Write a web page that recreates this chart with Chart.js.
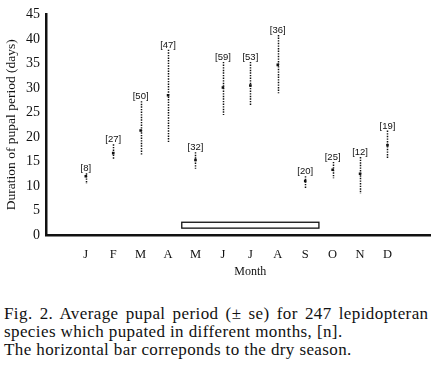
<!DOCTYPE html>
<html>
<head>
<meta charset="utf-8">
<script src="https://cdn.jsdelivr.net/npm/chart.js@4"></script>
<style>
  html, body { margin: 0; padding: 0; background: #fff; }
  body { width: 433px; height: 370px; position: relative; overflow: hidden; }
  #wrap { position: absolute; left: 0; top: 0; width: 433px; height: 290px; }
  #caption { position: absolute; left: 4px; top: 305px; font-family: "Liberation Serif", "DejaVu Serif", serif; font-size: 17px; line-height: 18px; color: #111; white-space: nowrap; letter-spacing: 0.4px; }
  #caption .l1 { word-spacing: 2.5px; }
</style>
</head>
<body>
<div id="wrap"><canvas id="c" width="433" height="290"></canvas></div>
<div id="caption"><span class="l1">Fig. 2. Average pupal period (± se) for 247 lepidopteran</span><br>species which pupated in different months, [n].<br>The horizontal bar correponds to the dry season.</div>
<script>
const months = ['J','F','M','A','M','J','J','A','S','O','N','D'];
const meanDays = [12.0, 16.7, 21.3, 28.5, 15.3, 30.1, 30.5, 34.7, 11.0, 13.3, 12.5, 18.3];
const lowDays  = [10.4, 15.3, 16.3, 18.9, 13.5, 24.5, 26.3, 28.9, 9.4, 11.6, 8.4, 15.5];
const highDays = [12.6, 18.5, 27.3, 37.8, 16.9, 35.3, 35.3, 40.8, 12.0, 14.9, 15.9, 21.3];
const nSpecies = [8, 27, 50, 47, 32, 59, 53, 36, 20, 25, 12, 19];
const yTicks = [0, 5, 10, 15, 20, 25, 30, 35, 40, 45];
// dry season: May (index 4) through September (index 8), drawn as a bar from 1.4 to 2.6 days
const dryFirstMonth = 4;
const dryLastMonth = 8;
const dryBarLow = 1.4;
const dryBarHigh = 2.6;

const points = meanDays.map((v, i) => ({ x: i, y: v }));

const errorPlugin = {
  id: 'errorBars',
  afterDatasetsDraw(chart) {
    const ctx = chart.ctx;
    const xs = chart.scales.x, ys = chart.scales.y;
    ctx.save();
    // dry-season bar
    const x0 = xs.getPixelForValue(dryFirstMonth - 0.5);
    const x1 = xs.getPixelForValue(dryLastMonth + 0.5);
    const y0 = ys.getPixelForValue(dryBarHigh);
    const y1 = ys.getPixelForValue(dryBarLow);
    ctx.fillStyle = '#fff';
    ctx.strokeStyle = '#111';
    ctx.lineWidth = 1.3;
    ctx.fillRect(x0, y0, x1 - x0, y1 - y0);
    ctx.strokeRect(x0, y0, x1 - x0, y1 - y0);
    // error bars
    ctx.setLineDash([1.4, 1.2]);
    ctx.lineWidth = 1.5;
    ctx.strokeStyle = '#111';
    for (let i = 0; i < months.length; i++) {
      const x = Math.round(xs.getPixelForValue(i)) + 0.5;
      ctx.beginPath();
      ctx.moveTo(x, ys.getPixelForValue(highDays[i]));
      ctx.lineTo(x, ys.getPixelForValue(lowDays[i]));
      ctx.stroke();
    }
    ctx.setLineDash([]);
    // n labels
    ctx.fillStyle = '#111';
    ctx.font = '9.5px "Liberation Sans", Arial, sans-serif';
    ctx.textAlign = 'center';
    ctx.textBaseline = 'alphabetic';
    for (let i = 0; i < months.length; i++) {
      const x = xs.getPixelForValue(i);
      ctx.fillText('[' + nSpecies[i] + ']', x, ys.getPixelForValue(highDays[i]) - 2);
    }
    // x axis title
    ctx.font = '12px "Liberation Serif", serif';
    ctx.textBaseline = 'middle';
    ctx.fillText('Month', xs.getPixelForValue(6), 272);
    ctx.restore();
  }
};

new Chart(document.getElementById('c'), {
  type: 'scatter',
  data: {
    datasets: [{
      data: points,
      pointStyle: 'rect',
      pointRadius: 1.8,
      pointBackgroundColor: '#111',
      pointBorderColor: '#111',
      pointBorderWidth: 0,
      pointHoverRadius: 1.8
    }]
  },
  options: {
    responsive: false,
    devicePixelRatio: 1,
    animation: false,
    events: [],
    layout: { padding: { left: 0, right: 3, top: 9, bottom: 0 } },
    plugins: { legend: { display: false }, tooltip: { enabled: false } },
    scales: {
      x: {
        type: 'linear',
        min: -1.45,
        max: 12.55,
        afterBuildTicks(scale) { scale.ticks = months.map((m, i) => ({ value: i })); },
        afterFit(scale) { scale.height = 55; },
        grid: { display: false, drawTicks: false },
        border: { display: true, color: '#111', width: 2.5 },
        ticks: {
          autoSkip: false,
          maxRotation: 0,
          padding: 12,
          color: '#111',
          font: { family: '"Liberation Serif", serif', size: 12.5 },
          callback: (v) => months[v]
        }
      },
      y: {
        min: 0,
        max: 45,
        afterBuildTicks(scale) { scale.ticks = yTicks.map(v => ({ value: v })); },
        afterFit(scale) { scale.width = 46; },
        grid: { display: false, drawTicks: false },
        border: { display: true, color: '#111', width: 2.5 },
        ticks: {
          padding: 6,
          color: '#111',
          font: { family: '"Liberation Serif", serif', size: 14 }
        },
        title: {
          display: true,
          text: 'Duration of pupal period (days)',
          color: '#111',
          padding: { top: 3, bottom: 0 },
          font: { family: '"Liberation Serif", serif', size: 13.5 }
        }
      }
    }
  },
  plugins: [errorPlugin]
});
</script>
</body>
</html>
